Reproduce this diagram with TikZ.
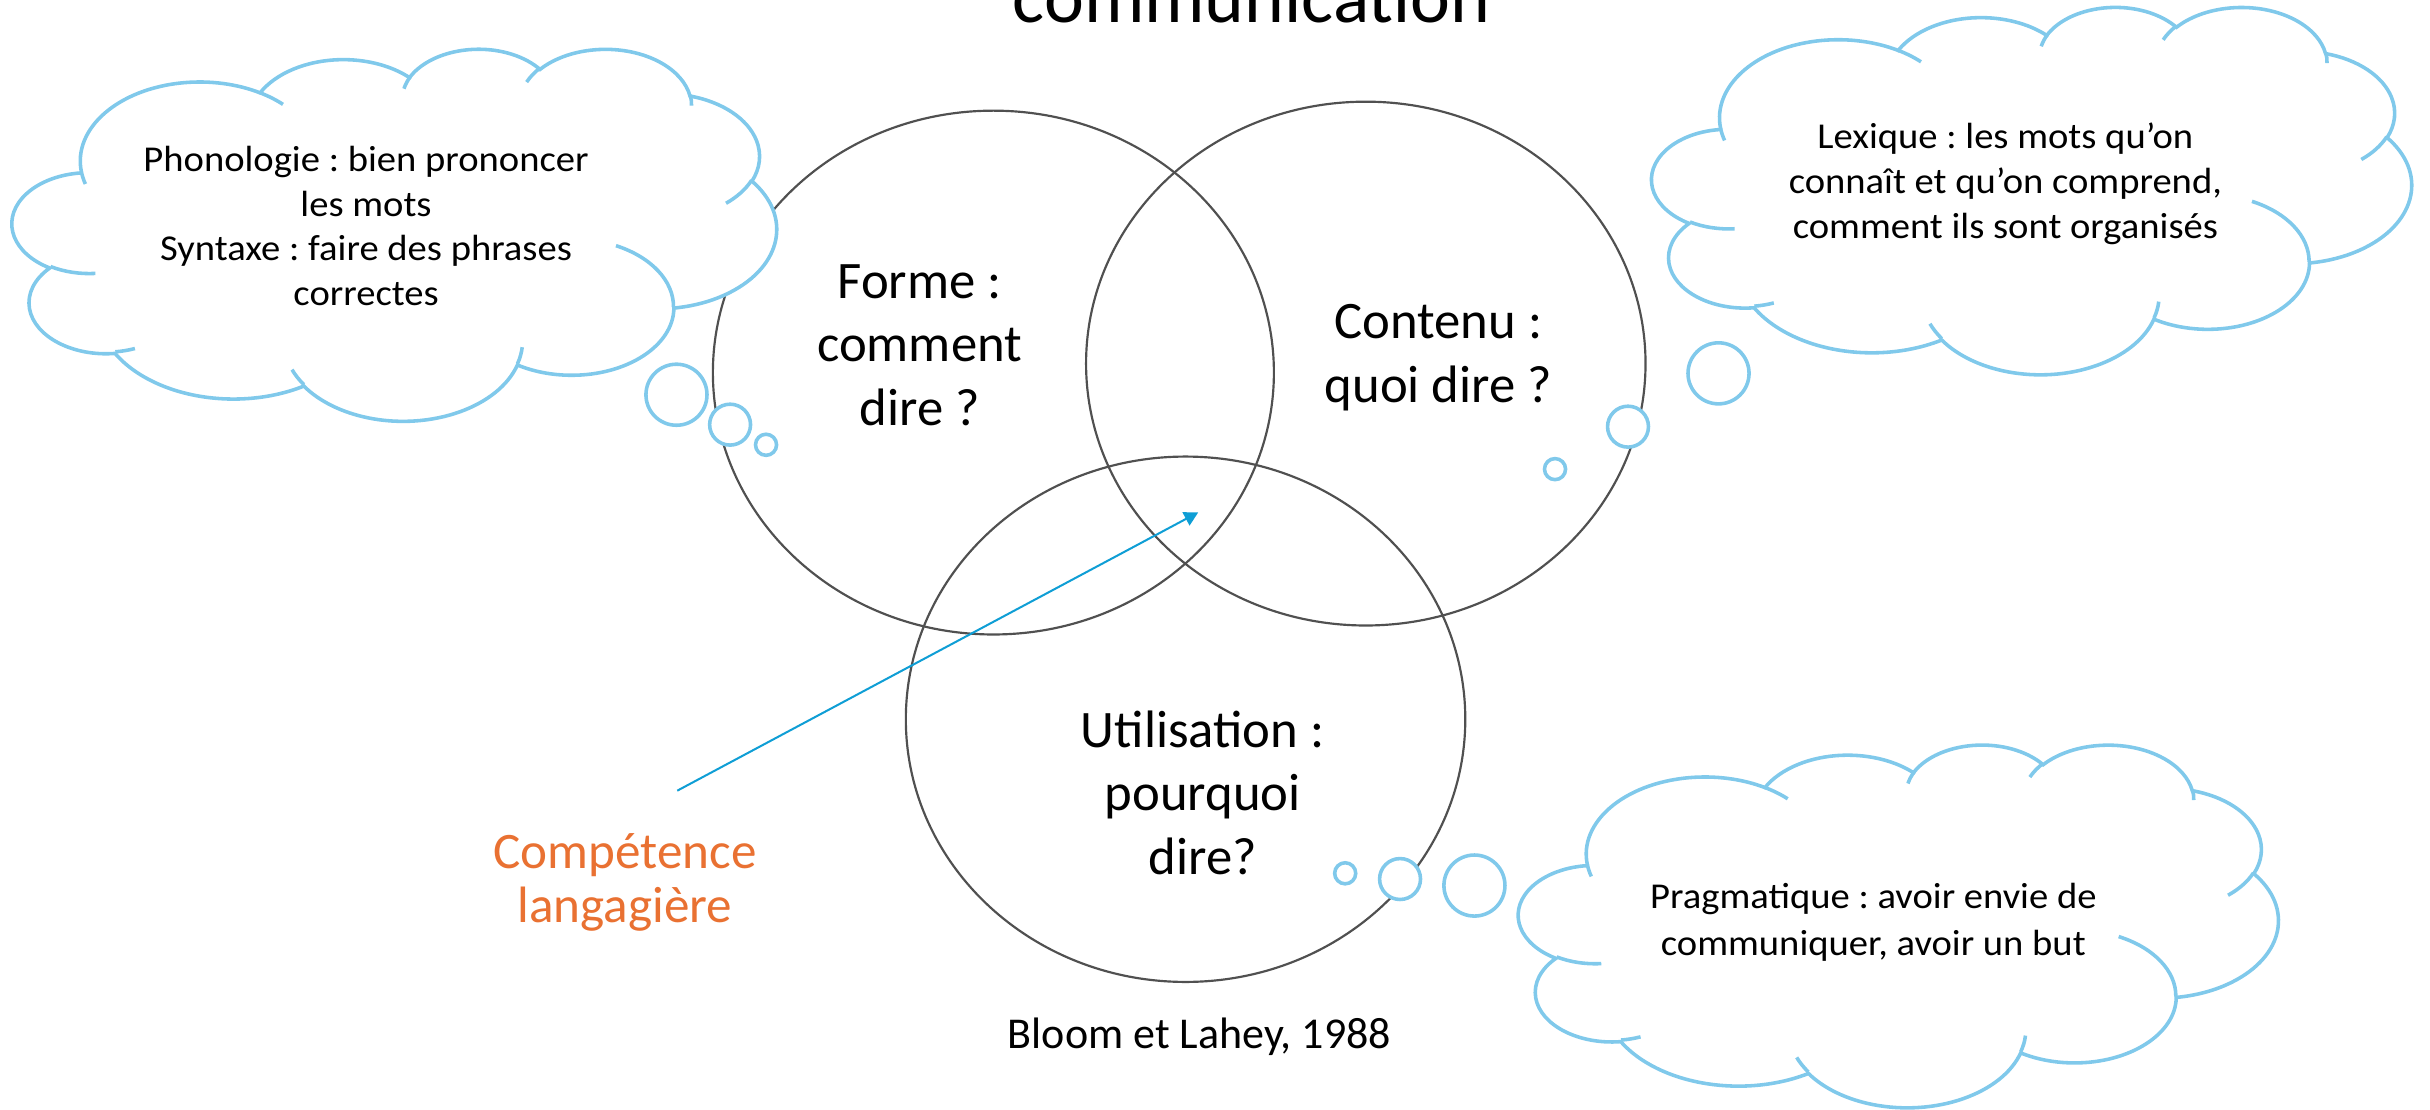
\documentclass[tikz,border=0pt]{standalone}
\usepackage{fontspec}
\setmainfont{Carlito}
\newfontfamily\cloudfont[FakeStretch=1.06]{Carlito}
\usetikzlibrary{arrows.meta,shapes.geometric}
\frenchspacing

\definecolor{cloudblue}{RGB}{128,201,235}
\definecolor{arrowblue}{RGB}{15,158,213}
\definecolor{circlegray}{RGB}{80,80,80}
\definecolor{compOrange}{RGB}{233,113,50}

% DrawingML arcTo (visual angles) -> TikZ parametric arc angles
\makeatletter
\newcommand\clprecomp[5]{%
  \pgfmathsetmacro\cl@ae{#4+#5}%
  \pgfmathsetmacro\cl@ts{atan2(#2*sin(#4),#3*cos(#4))}%
  \pgfmathsetmacro\cl@te{atan2(#2*sin(\cl@ae),#3*cos(\cl@ae))}%
  \pgfmathsetmacro\cl@dt{mod(\cl@te-(\cl@ts)+720,360)}%
  \expandafter\xdef\csname clTs#1\endcsname{\cl@ts}%
  \expandafter\xdef\csname clDt#1\endcsname{\cl@dt}%
}
\makeatother
\clprecomp{A}{67.53}{91.90}{-190.487483}{123.780533}
\clprecomp{B}{53.33}{72.67}{-144.102383}{89.945233}
\clprecomp{C}{43.65}{59.45}{-145.807917}{99.723017}
\clprecomp{D}{48.57}{65.95}{-130.986067}{117.241733}
\clprecomp{E}{53.33}{72.73}{-78.708883}{109.026917}
\clprecomp{F}{67.75}{92.20}{-46.26725}{130.269}
\clprecomp{G}{57.85}{78.67}{0.625017}{114.033333}
\clprecomp{H}{67.52}{92.15}{22.4516}{115.17255}
\clprecomp{I}{77.20}{105.43}{66.242633}{75.711017}
\clprecomp{J}{43.60}{59.18}{-274.942083}{146.735567}
\clprecomp{K}{43.45}{59.45}{-246.8285}{152.51885}
\clprecomp{iA}{43.45}{59.45}{86.742}{26.4295}
\clprecomp{iB}{43.60}{59.18}{73.610467}{11.447467}
\clprecomp{iC}{67.52}{92.15}{137.62415}{14.0811}
\clprecomp{iD}{67.52}{92.15}{6.453267}{15.99835}
\clprecomp{iE}{57.85}{78.67}{-70.29235}{70.917367}
\clprecomp{iF}{53.33}{72.73}{30.318033}{27.7515}
\clprecomp{iG}{48.57}{65.95}{-13.744333}{14.8589}
\clprecomp{iH}{48.57}{65.95}{-149.18145}{18.195367}
\clprecomp{iI}{43.65}{59.45}{-163.494267}{17.68635}
\clprecomp{iJ}{67.53}{91.90}{-66.70695}{12.31935}
\clprecomp{iK}{67.53}{91.90}{157.65435}{11.858167}

\tikzset{
  cloudline/.style={draw=cloudblue, line width=2.3pt},
  bubble/.style={draw=cloudblue, line width=2.3pt, fill=white},
  vennring/.style={ellipse, draw=circlegray, line width=1.4pt, inner sep=0pt},
  pointer/.style={draw=arrowblue, line width=1.3pt, -{Triangle[length=9pt,width=9.5pt]}},
  circlelabel/.style={anchor=base, inner sep=0pt, font=\fontsize{34}{41}\selectfont},
  cloudtext/.style={anchor=base, inner sep=0pt},
}

% cloud: X0, Y0 (top-left, y downwards), width, height
\newcommand\drawcloud[4]{%
  \pgfmathsetmacro\clsx{#3/432}%
  \pgfmathsetmacro\clsy{#4/432}%
  \begin{scope}[shift={(#1pt,-#2pt)},x=\clsx pt,y=-\clsy pt]
    \draw[cloudline,fill=white] (39.00,143.70)
      arc[start angle=\clTsA,delta angle=\clDtA,x radius=67.53,y radius=91.90]
      arc[start angle=\clTsB,delta angle=\clDtB,x radius=53.33,y radius=72.67]
      arc[start angle=\clTsC,delta angle=\clDtC,x radius=43.65,y radius=59.45]
      arc[start angle=\clTsD,delta angle=\clDtD,x radius=48.57,y radius=65.95]
      arc[start angle=\clTsE,delta angle=\clDtE,x radius=53.33,y radius=72.73]
      arc[start angle=\clTsF,delta angle=\clDtF,x radius=67.75,y radius=92.20]
      arc[start angle=\clTsG,delta angle=\clDtG,x radius=57.85,y radius=78.67]
      arc[start angle=\clTsH,delta angle=\clDtH,x radius=67.52,y radius=92.15]
      arc[start angle=\clTsI,delta angle=\clDtI,x radius=77.20,y radius=105.43]
      arc[start angle=\clTsJ,delta angle=\clDtJ,x radius=43.60,y radius=59.18]
      arc[start angle=\clTsK,delta angle=\clDtK,x radius=43.45,y radius=59.45]
      -- cycle;
    \draw[cloudline]
      (46.93,261.77) arc[start angle=\clTsiA,delta angle=\clDtiA,x radius=43.45,y radius=59.45]
      (69.28,348.99) arc[start angle=\clTsiB,delta angle=\clDtiB,x radius=43.60,y radius=59.18]
      (164.78,390.90) arc[start angle=\clTsiC,delta angle=\clDtiC,x radius=67.52,y radius=92.15]
      (288.27,347.51) arc[start angle=\clTsiD,delta angle=\clDtiD,x radius=67.52,y radius=92.15]
      (341.29,229.54) arc[start angle=\clTsiE,delta angle=\clDtiE,x radius=57.85,y radius=78.67]
      (417.98,153.54) arc[start angle=\clTsiF,delta angle=\clDtiF,x radius=53.33,y radius=72.73]
      (383.24,54.26) arc[start angle=\clTsiG,delta angle=\clDtiG,x radius=48.57,y radius=65.95]
      (290.78,39.52) arc[start angle=\clTsiH,delta angle=\clDtiH,x radius=48.57,y radius=65.95]
      (221.41,47.20) arc[start angle=\clTsiI,delta angle=\clDtiI,x radius=43.65,y radius=59.45]
      (140.00,51.92) arc[start angle=\clTsiJ,delta angle=\clDtiJ,x radius=67.53,y radius=91.90]
      (41.27,157.89) arc[start angle=\clTsiK,delta angle=\clDtiK,x radius=67.53,y radius=91.90];
  \end{scope}}

\begin{document}
\begin{tikzpicture}[x=1pt,y=-1pt]
\useasboundingbox (0,0) rectangle (1568,716);
\clip (0,0) rectangle (1568,716);

% title (cut off at the top, as in the original)
\node[anchor=base, inner sep=0pt, font=\fontsize{48.8}{58}\selectfont] (title) at (807.6,14.4) {communication};

% Venn rings
\node[vennring, minimum width=362pt, minimum height=338pt] (forme) at (641,240.4) {};
\node[vennring, minimum width=361pt, minimum height=338pt] (contenu) at (881.3,234.6) {};
\node[vennring, minimum width=361pt, minimum height=339pt] (utilisation) at (765,464.1) {};

% thought clouds
\drawcloud{8}{31}{493}{240}
\drawcloud{1066}{4}{490}{237}
\drawcloud{980}{480}{490}{234}

% bubbles
\draw[bubble] (436.5,254.7) circle[radius=19.7pt];
\draw[bubble] (471.1,274.0) circle[radius=13.2pt];
\draw[bubble] (494.3,287.0) circle[radius=6.8pt];
\draw[bubble] (1108.9,240.9) circle[radius=19.7pt];
\draw[bubble] (1050.5,275.3) circle[radius=13.2pt];
\draw[bubble] (1003.4,302.7) circle[radius=6.8pt];
\draw[bubble] (868.0,563.5) circle[radius=6.8pt];
\draw[bubble] (903.4,567.2) circle[radius=13.2pt];
\draw[bubble] (951.4,571.4) circle[radius=19.7pt];

% labels in the rings
\node[circlelabel] (formetext) at (593.4,192.4) {\begin{tabular}[t]{@{}c@{}}Forme :\\comment\\dire ?\end{tabular}};
\node[circlelabel] (contenutext) at (928.1,218.7) {\begin{tabular}[t]{@{}c@{}}Contenu :\\quoi dire ?\end{tabular}};
\node[circlelabel] (utiltext) at (776.0,482.2) {\begin{tabular}[t]{@{}c@{}}Utilisation :\\pourquoi\\dire?\end{tabular}};

% cloud texts
\node[cloudtext, font=\cloudfont\fontsize{23.5}{28.7}\selectfont] (phono) at (236.2,110.8)
  {\begin{tabular}[t]{@{}c@{}}Phonologie : bien prononcer\\les mots\\Syntaxe : faire des phrases\\correctes\end{tabular}};
\node[cloudtext, font=\cloudfont\fontsize{23.5}{29.0}\selectfont] (lexique) at (1294.0,95.7)
  {\begin{tabular}[t]{@{}c@{}}Lexique : les mots qu’on\\connaît et qu’on comprend,\\comment ils sont organisés\end{tabular}};
\node[cloudtext, font=\cloudfont\fontsize{23.5}{30.2}\selectfont] (pragma) at (1208.8,586.1)
  {\begin{tabular}[t]{@{}c@{}}Pragmatique : avoir envie de\\communiquer, avoir un but\end{tabular}};

% competence label and arrow
\node[anchor=base, inner sep=0pt, text=compOrange, font=\fontsize{33}{35.1}\selectfont] (competence) at (403.3,560.3)
  {\begin{tabular}[t]{@{}c@{}}Compétence\\langagière\end{tabular}};
\coordinate (arrowtail) at (437.0,510.2);
\coordinate (arrowtip) at (773.2,330.6);
\draw[pointer] (arrowtail) -- (arrowtip);

% source
\node[anchor=base, inner sep=0pt, font=\fontsize{28.4}{34}\selectfont] (source) at (774.0,676.5) {Bloom et Lahey, 1988};
\end{tikzpicture}
\end{document}
